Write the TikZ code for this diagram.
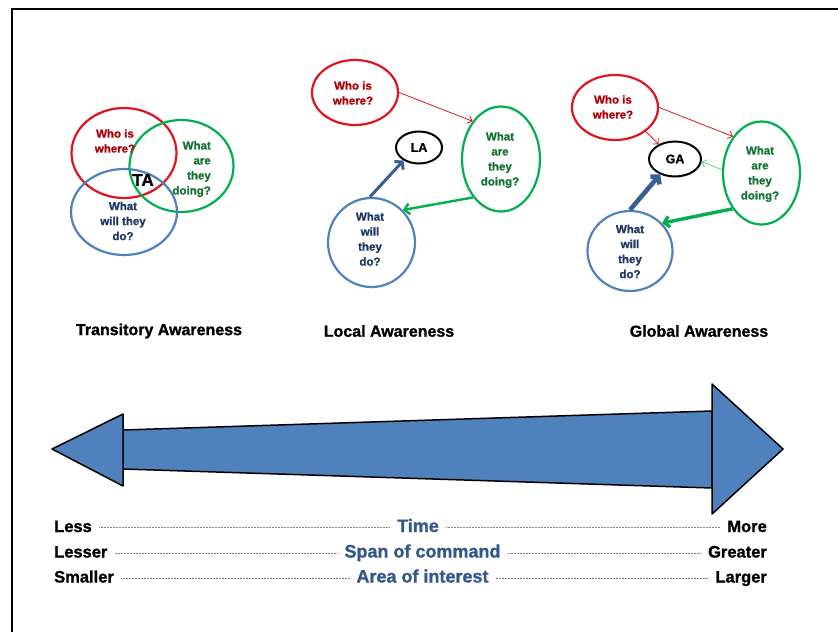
\documentclass[tikz,border=0pt]{standalone}
\usepackage{fontspec}
\setmainfont{Liberation Sans}[BoldFeatures={FakeBold=1.2}]
\usetikzlibrary{shapes.geometric,arrows.meta}
\definecolor{cred}{RGB}{225,20,30}
\definecolor{tred}{RGB}{175,0,10}
\definecolor{cgreen}{RGB}{0,176,80}
\definecolor{tgreen}{RGB}{20,115,50}
\definecolor{lgreen}{RGB}{110,200,140}
\definecolor{cblue}{RGB}{79,129,189}
\definecolor{tblue}{RGB}{31,56,100}
\definecolor{abl}{RGB}{55,96,146}
\definecolor{ctext}{RGB}{50,88,140}
\begin{document}
\begin{tikzpicture}[x=1pt,y=-1pt,
  bub/.style={ellipse, draw, line width=2.2pt, inner sep=0pt},
  btxt/.style={font=\fontsize{11.5}{15}\selectfont\bfseries, align=center, inner sep=0pt},
  ctag/.style={font=\fontsize{12.5}{13}\selectfont\bfseries, inner sep=0pt},
  thinred/.style={draw=cred, line width=0.8pt, -{Straight Barb[length=4pt,width=8pt]}},
  thingreen/.style={draw=lgreen, line width=0.8pt, -{Straight Barb[length=4pt,width=8pt]}},
  gthick/.style={draw=cgreen, line width=2.4pt, -{Straight Barb[length=5pt,width=11pt]}},
  bthick/.style={draw=abl, line width=3pt, -{Straight Barb[length=5pt,width=12pt]}},
  awlbl/.style={font=\fontsize{16}{16}\selectfont\bfseries, inner sep=0pt},
  endw/.style={font=\fontsize{16.5}{17}\selectfont\bfseries, inner sep=2pt, text height=12pt, text depth=3pt},
  midw/.style={font=\fontsize{18}{18}\selectfont\bfseries, text=ctext, inner sep=2pt, text height=12pt, text depth=3pt},
  dots/.style={draw=gray, line width=0.6pt, dash pattern=on 0.6pt off 0.9pt, shorten <=5pt, shorten >=5pt}
]
\useasboundingbox (0,0) rectangle (838,632);
% frame
\draw[line width=2pt] (12,632) -- (12,9) -- (838,9);

% ---------- Transitory awareness ----------
\node[bub, draw=cred, minimum width=105, minimum height=90] (tr) at (124,153) {};
\node[bub, draw=cgreen, minimum width=104, minimum height=92] (tg) at (181.5,166) {};
\node[bub, draw=cblue, minimum width=106, minimum height=86] (tb) at (124,212) {};
\node[btxt, text=tred] (trt) at (115,141) {Who is\\where?};
\node[btxt, text=tgreen, align=right, anchor=east] (tgt) at (211,169) {What\\are\\they\\doing?};
\node[btxt, text=tblue] (tbt) at (123,221) {What\\will they\\do?};
\node[font=\fontsize{17}{17}\selectfont\bfseries, inner sep=0pt] (ta) at (143,180) {TA};

% ---------- Local awareness ----------
\node[bub, draw=cred, minimum width=86, minimum height=65] (lr) at (355,92.5) {};
\node[btxt, text=tred] (lrt) at (353,93) {Who is\\where?};
\node[bub, draw=black, line width=2pt, minimum width=46, minimum height=32] (la) at (419,147.5) {};
\node[ctag] (lat) at (la) {LA};
\node[bub, draw=cgreen, minimum width=78, minimum height=105] (lg) at (501,159) {};
\node[btxt, text=tgreen] (lgt) at (500,160) {What\\are\\they\\doing?};
\node[bub, draw=cblue, minimum width=87, minimum height=89] (lb) at (371.5,242.5) {};
\node[btxt, text=tblue] (lbt) at (370,239) {What\\will\\they\\do?};
\draw[thinred] (lr.0) -- (lg.127);
\draw[gthick] (lg.234) -- (lb.46);
\draw[bthick] (lb.92) -- (la.220);

% ---------- Global awareness ----------
\node[bub, draw=cred, minimum width=86, minimum height=65] (gr) at (615,107.5) {};
\node[btxt, text=tred] (grt) at (613,107) {Who is\\where?};
\node[bub, draw=black, line width=2pt, minimum width=52, minimum height=35] (ga) at (675,159) {};
\node[ctag] (gat) at (ga) {GA};
\node[bub, draw=cgreen, minimum width=77, minimum height=103] (gg) at (761.5,173) {};
\node[btxt, text=tgreen] (ggt) at (760,174) {What\\are\\they\\doing?};
\node[bub, draw=cblue, minimum width=85, minimum height=80] (gb) at (630,251) {};
\node[btxt, text=tblue] (gbt) at (630,251.5) {What\\will\\they\\do?};
\draw[thinred] (gr.0) -- (gg.128);
\draw[thinred] (gr.322) -- (ga.138);
\draw[thingreen] (gg.175) -- (ga.354);
\draw[gthick, line width=3.4pt] (gg.231) -- (gb.41);
\draw[bthick, line width=4.6pt] (gb.90) -- (ga.226);

% ---------- labels ----------
\node[awlbl] (tal) at (159,331) {Transitory Awareness};
\node[awlbl] (lal) at (389,331) {Local Awareness};
\node[awlbl] (gal) at (699,331) {Global Awareness};

% ---------- big double arrow ----------
\draw[fill=cblue, line width=1.5pt, line join=round] (123,430) -- (712,411) -- (712,488) -- (123,469) -- cycle;
\draw[fill=cblue, line width=1.5pt, line join=round] (52,449) -- (123,414) -- (123,486) -- cycle;
\draw[fill=cblue, line width=1.5pt, line join=round] (783,449) -- (712,384) -- (712,514) -- cycle;

% ---------- scales ----------
\node[endw, anchor=west] (less) at (52,527.5) {Less};
\node[midw] (time) at (418,527.5) {Time};
\node[endw, anchor=east] (more) at (769,527.5) {More};
\node[endw, anchor=west] (lesser) at (52,553) {Lesser};
\node[midw] (span) at (422.5,553) {Span of command};
\node[endw, anchor=east] (greater) at (769,553) {Greater};
\node[endw, anchor=west] (smaller) at (52,578) {Smaller};
\node[midw] (area) at (422.5,578) {Area of interest};
\node[endw, anchor=east] (larger) at (769,578) {Larger};
\draw[dots] (less) -- (time);
\draw[dots] (time) -- (more);
\draw[dots] (lesser) -- (span);
\draw[dots] (span) -- (greater);
\draw[dots] (smaller) -- (area);
\draw[dots] (area) -- (larger);
\end{tikzpicture}
\end{document}
